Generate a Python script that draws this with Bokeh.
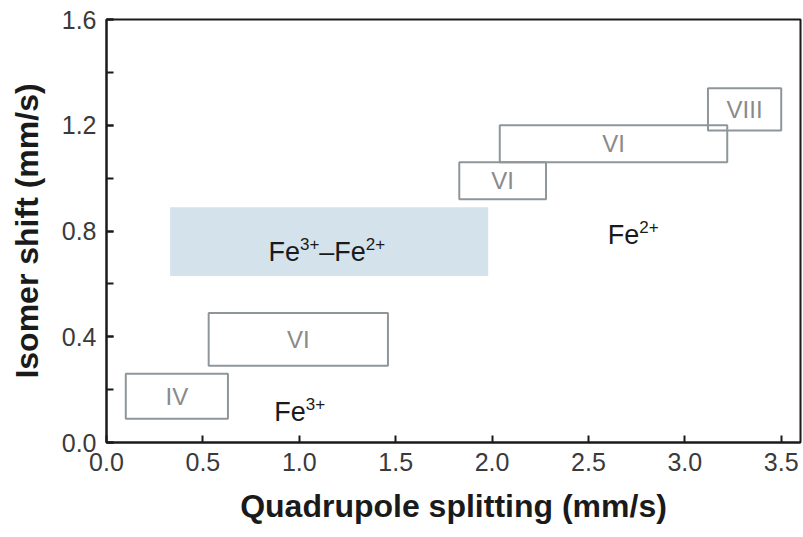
from bokeh.plotting import figure
from bokeh.models import SingleIntervalTicker, PrintfTickFormatter, Range1d, ColumnDataSource
from bokeh.core.properties import value
from bokeh.embed import file_html
from bokeh.resources import INLINE

# ---- data ----
# coordination-site boxes (quadrupole splitting range, isomer shift range)
box_labels = ["IV", "VI", "VI", "VI", "VIII"]
box_qs_min = [0.10, 0.53, 1.83, 2.04, 3.12]
box_qs_max = [0.63, 1.46, 2.28, 3.22, 3.50]
box_is_min = [0.09, 0.29, 0.92, 1.06, 1.18]
box_is_max = [0.26, 0.49, 1.06, 1.20, 1.34]

# mixed-valence region
mixed_qs = [0.33, 1.98]
mixed_is = [0.63, 0.89]

# valence annotations: (x, y) of text baseline start
fe3_pos = [0.87, 0.115]
fe2_pos = [2.60, 0.783]
mixed_label_pos = [0.84, 0.72]

x_ticks_interval = 0.5
y_ticks_interval = 0.4

FONT = "Liberation Sans"

p = figure(width=803, height=537, output_backend="svg", toolbar_location=None,
           x_range=Range1d(0, 3.6), y_range=Range1d(0, 1.6),
           min_border_left=106, min_border_right=3, min_border_top=19, min_border_bottom=95,
           background_fill_color="white", border_fill_color="white")

p.xgrid.visible = False
p.ygrid.visible = False
p.outline_line_color = "#1a1a1a"
p.outline_line_width = 2

# mixed valence shaded region
p.quad(left=[mixed_qs[0]], right=[mixed_qs[1]], bottom=[mixed_is[0]], top=[mixed_is[1]],
       fill_color="#d4e2ec", line_color=None)

src = ColumnDataSource(dict(l=box_qs_min, r=box_qs_max, b=box_is_min, t=box_is_max,
                            label=box_labels,
                            cx=[(a + b) / 2 for a, b in zip(box_qs_min, box_qs_max)],
                            cy=[(a + b) / 2 for a, b in zip(box_is_min, box_is_max)]))
p.quad(left="l", right="r", bottom="b", top="t", source=src,
       fill_color=None, line_color="#8f969a", line_width=2)
p.text(x="cx", y="cy", text="label", source=src, text_align="center", text_baseline="middle",
       text_font=value(FONT), text_font_size="24px", text_color="#8a8a8a")

# helper for text with superscripts
WIDTHS = {"F": 0.611, "e": 0.556, "2": 0.556, "3": 0.556, "+": 0.584, "–": 0.556}
BASE = 27
SUP = 17


def sup_text(x, y, parts):
    off = 0.0
    for txt, is_sup in parts:
        size = SUP if is_sup else BASE
        p.text(x=[x], y=[y], text=[txt], x_offset=off, y_offset=-8 if is_sup else 0,
               text_align="left", text_baseline="alphabetic",
               text_font=value(FONT), text_font_size=f"{size}px", text_color="#1a1a1a")
        off += sum(WIDTHS.get(c, 0.55) for c in txt) * size


sup_text(fe3_pos[0], fe3_pos[1], [("Fe", False), ("3+", True)])
sup_text(fe2_pos[0], fe2_pos[1], [("Fe", False), ("2+", True)])
sup_text(mixed_label_pos[0], mixed_label_pos[1],
         [("Fe", False), ("3+", True), ("–Fe", False), ("2+", True)])

# axes
for ax in (p.xaxis[0], p.yaxis[0]):
    ax.axis_line_color = "#1a1a1a"
    ax.axis_line_width = 2
    ax.major_tick_line_color = "#1a1a1a"
    ax.major_tick_line_width = 2
    ax.minor_tick_line_color = "#1a1a1a"
    ax.minor_tick_line_width = 2
    ax.major_tick_in = 7
    ax.major_tick_out = 0
    ax.minor_tick_in = 7
    ax.minor_tick_out = 0
    ax.major_label_text_font = FONT
    ax.major_label_text_font_size = "25px"
    ax.major_label_text_color = "#3a3a3a"
    ax.major_label_standoff = 10
    ax.axis_label_text_font = FONT
    ax.axis_label_text_font_size = "32px"
    ax.axis_label_text_font_style = "bold"
    ax.axis_label_text_color = "#1a1a1a"
    ax.axis_label_standoff = 14
    ax.formatter = PrintfTickFormatter(format="%.1f")

p.xaxis.ticker = SingleIntervalTicker(interval=x_ticks_interval, num_minor_ticks=0)
p.yaxis.ticker = SingleIntervalTicker(interval=y_ticks_interval, num_minor_ticks=2)
p.xaxis.axis_label = "Quadrupole splitting (mm/s)"
p.yaxis.axis_label = "Isomer shift (mm/s)"

open("out.html", "w").write(file_html(p, INLINE))
